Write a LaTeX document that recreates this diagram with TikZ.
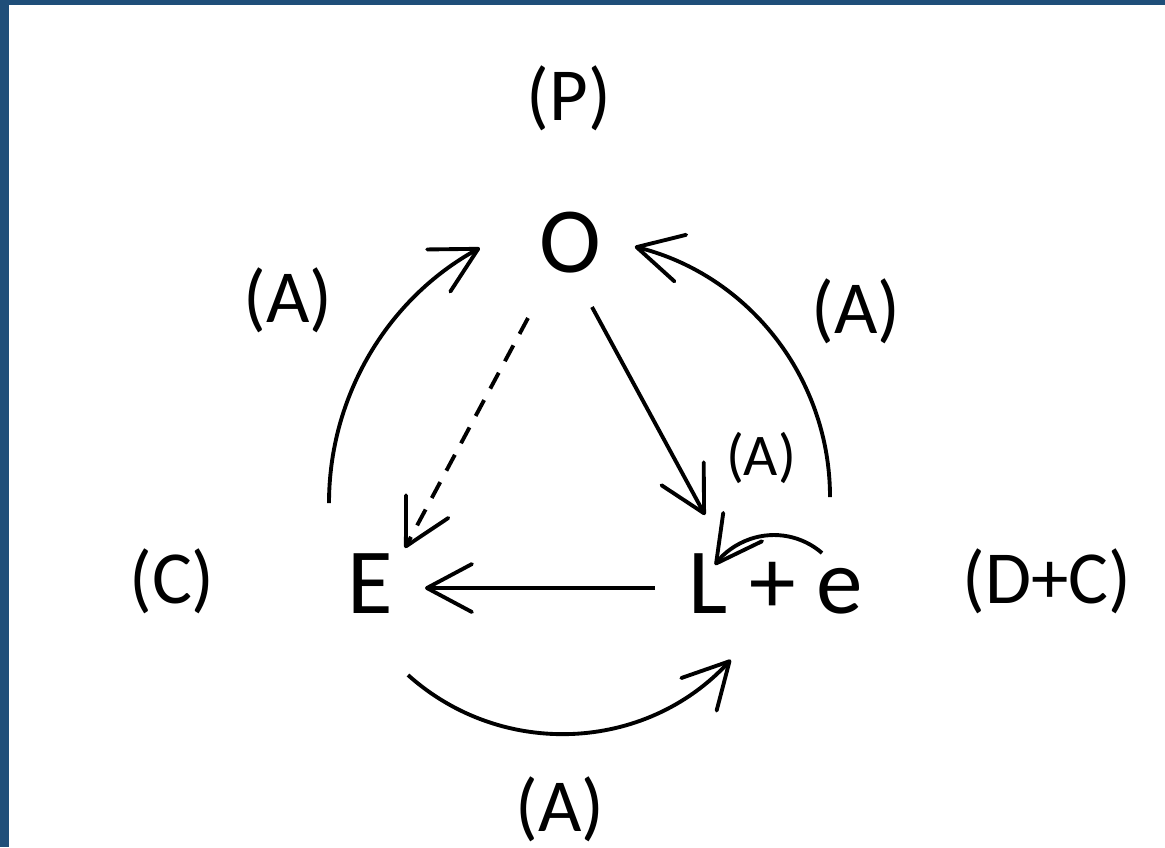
\documentclass[tikz,border=0pt]{standalone}
\usepackage{fontspec}
\setmainfont{Carlito}
\usetikzlibrary{arrows.meta}
\definecolor{framecol}{HTML}{1F4E79}
\begin{document}
\begin{tikzpicture}[x=0.01cm,y=-0.01cm, line width=1.1pt,
  barb/.style={-{Straight Barb[length=0.45cm,width=0.48cm,round]}},
  bigtxt/.style={font=\fontsize{26.5}{30}\selectfont, inner sep=0pt, anchor=base},
  labtxt/.style={font=\fontsize{21.3}{25}\selectfont, inner sep=0pt, anchor=base},
  smalltxt/.style={font=\fontsize{16.8}{20}\selectfont, inner sep=0pt, anchor=base}]
\useasboundingbox (0,0) rectangle (1165,847);
\fill[white] (0,0) rectangle (1165,847);
\fill[framecol] (0,0) rectangle (9,847);
\fill[framecol] (0,0) rectangle (1165,5);

\node[labtxt] (P) at (569,120) {(P)};
\node[bigtxt] (O) at (570,272) {O};
\node[labtxt] (C) at (172,603) {(C)};
\node[bigtxt] (E) at (370,613) {E};
\node[bigtxt] (L) at (776,613) {L + e};
\node[labtxt] (DC) at (1047,603) {(D+C)};
\node[labtxt] (AL) at (288,322) {(A)};
\node[labtxt] (AR) at (856,333) {(A)};
\node[smalltxt] (AS) at (761,475) {(A)};
\node[labtxt] (AB) at (560,831) {(A)};

\coordinate (la0) at (329,503);
\coordinate (ra0) at (830,497);
\coordinate (ba0) at (408,675);
\coordinate (sa0) at (822,553);
\coordinate (ol1) at (592,307);
\coordinate (ol2) at (705,515);
\coordinate (oe1) at (528,318);
\coordinate (oe2) at (405,548);
\coordinate (le1) at (655,588);
\coordinate (le2) at (425,588);

\draw[barb] (la0) arc[start angle=180, end angle=118.8, radius=2.91cm];
\draw[barb] (ra0) arc[start angle=0, end angle=75.9, radius=2.58cm];
\draw[barb] (ba0) arc[start angle=228.1, end angle=317.3, radius=2.30cm];
\draw[barb] (sa0) arc[start angle=48.9, end angle=143.9, radius=0.73cm];
\draw[barb] (ol1) -- (ol2);
\draw[barb, dash pattern=on 0.18cm off 0.13cm] (oe1) -- (oe2);
\draw[barb] (le1) -- (le2);
\end{tikzpicture}
\end{document}
